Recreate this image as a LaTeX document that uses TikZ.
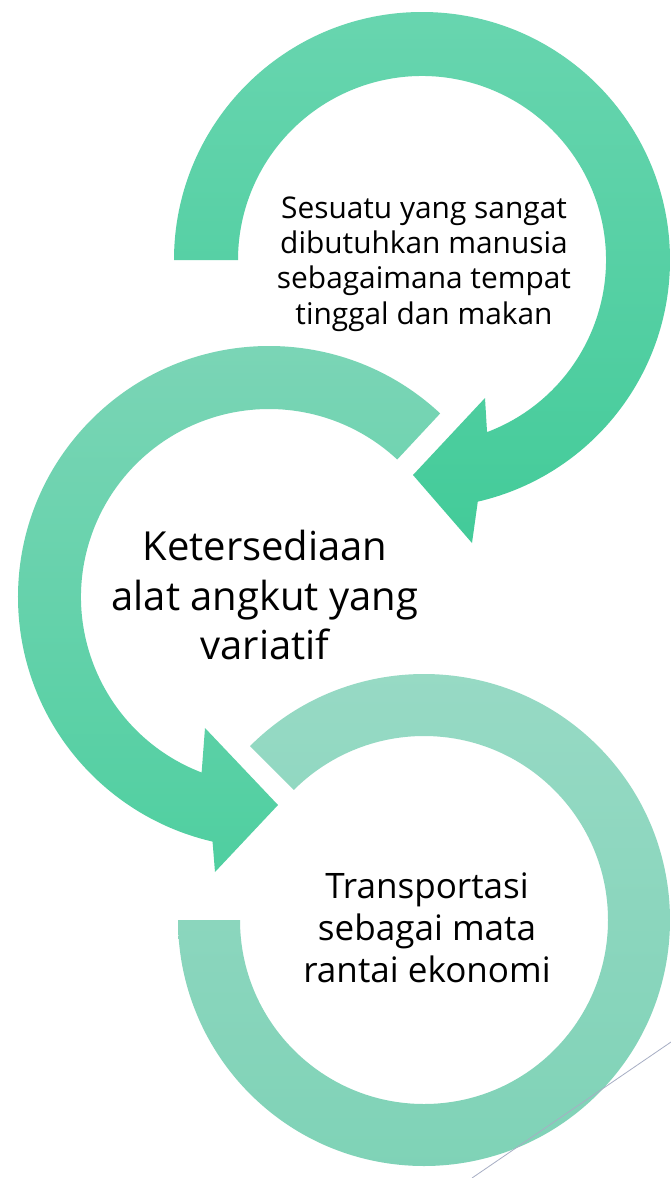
\documentclass[tikz,border=0pt]{standalone}
\usepackage{fontspec}
\setmainfont{Open Sans}
\begin{document}
\begin{tikzpicture}[x=0.75pt,y=0.75pt,
  ringA/.style={top color=gAt,bottom color=gAb,draw=none},
  ringB/.style={top color=gBt,bottom color=gBb,draw=none},
  ringC/.style={top color=gCt,bottom color=gCb,draw=none},
  lbl/.style={align=center,text=black,inner sep=0pt}]
\definecolor{gAt}{HTML}{68D5AF}
\definecolor{gAb}{HTML}{43CB99}
\definecolor{gBt}{HTML}{7DD5B7}
\definecolor{gBb}{HTML}{4FCFA0}
\definecolor{gCt}{HTML}{98DAC5}
\definecolor{gCb}{HTML}{7ED2B6}
\definecolor{edgeline}{HTML}{A7AEC4}
\useasboundingbox (0,0) rectangle (671,-1178);
\fill[white] (0,0) rectangle (671,-1178);
\coordinate (cA) at (422,-260);
\coordinate (cB) at (269,-597);
\coordinate (cC) at (424,-920);
% top ring with arrow head
\path[ringA] ([shift={(180:248)}]cA) arc[start angle=180,end angle=-77,radius=248]
  -- ([shift={(50,-283)}]cA) -- ([shift={(-9,-215)}]cA) -- ([shift={(63,-138)}]cA)
  -- ([shift={(-69.3:184)}]cA) arc[start angle=-69.3,end angle=180,radius=184] -- cycle;
% middle ring with arrow head
\path[ringB] ([shift={(47:251)}]cB) arc[start angle=47,end angle=257,radius=251]
  -- ([shift={(-54,-275)}]cB) -- ([shift={(9,-208)}]cB) -- ([shift={(-64,-131)}]cB)
  -- ([shift={(249:188)}]cB) arc[start angle=249,end angle=47,radius=188] -- cycle;
% bottom ring
\path[ringC] ([shift={(135:246)}]cC) arc[start angle=135,end angle=-180,radius=246]
  -- ([shift={(180:184)}]cC) arc[start angle=-180,end angle=135,radius=184] -- cycle;
% faint slide edge
\coordinate (e1) at (671,-1042);
\coordinate (e2) at (472,-1178);
\draw[edgeline,line width=0.6pt] (e1) -- (e2);
% texts
\node[lbl,font=\fontsize{22.4}{26.6}\selectfont] (tA) at (424,-264)
  {Sesuatu yang sangat\\dibutuhkan manusia\\sebagaimana tempat\\tinggal dan makan};
\node[lbl,font=\fontsize{30}{37}\selectfont] (tB) at (265,-595)
  {Ketersediaan\\alat angkut yang\\variatif};
\node[lbl,font=\fontsize{26.3}{31.5}\selectfont] (tC) at (427,-928)
  {Transportasi\\sebagai mata\\rantai ekonomi};
\end{tikzpicture}
\end{document}
